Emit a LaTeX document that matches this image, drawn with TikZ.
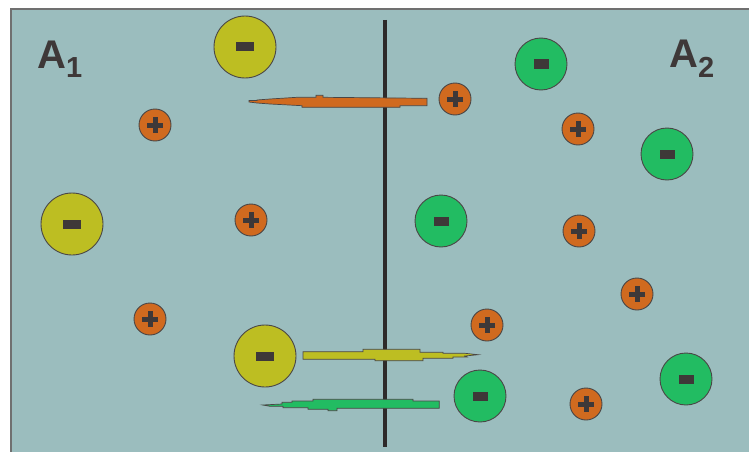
\documentclass[tikz,border=0pt]{standalone}
\usepackage{fontspec}
\newfontfamily\lblfont{Liberation Sans Bold}
\definecolor{bathcol}{HTML}{9BBDBE}
\definecolor{framegray}{HTML}{707070}
\definecolor{ionedge}{HTML}{4A4646}
\definecolor{signdark}{HTML}{3E3838}
\definecolor{ionorange}{HTML}{D06A1F}
\definecolor{ionyellow}{HTML}{BDBE22}
\definecolor{iongreen}{HTML}{22BC62}
\definecolor{membcol}{HTML}{2E2A2A}
\tikzset{
  ion/.style={circle, draw=ionedge, line width=0.9pt, inner sep=0pt},
  cation/.style={ion, fill=ionorange, minimum size=32pt, path picture={
      \fill[signdark] ([shift={(-8pt,-2.5pt)}]path picture bounding box.center) rectangle +(16pt,5pt);
      \fill[signdark] ([shift={(-2.5pt,-8pt)}]path picture bounding box.center) rectangle +(5pt,16pt);}},
  anionY/.style={ion, fill=ionyellow, minimum size=62pt, path picture={
      \fill[signdark] ([shift={(-9pt,-4.5pt)}]path picture bounding box.center) rectangle +(18pt,9pt);}},
  anionG/.style={ion, fill=iongreen, minimum size=52pt, path picture={
      \fill[signdark] ([shift={(-7.5pt,-4.5pt)}]path picture bounding box.center) rectangle +(15pt,9pt);}},
  channel/.style={draw=ionedge, line width=0.7pt},
  lbl/.style={font=\lblfont\fontsize{40}{40}\selectfont, text=signdark, inner sep=0pt, anchor=base west}
}
\begin{document}
\begin{tikzpicture}[x=1pt,y=-1pt]
  \useasboundingbox (0,0) rectangle (749,452);
  % bath and frame
  \fill[white] (0,0) rectangle (749,452);
  \fill[bathcol] (11,9) rectangle (749,452);
  \draw[framegray, line width=2.5pt] (11,452) -- (11,9) -- (749,9);
  % membrane
  \draw[membcol, line width=3.2pt] (385,20) -- (385,447);
  % channels
  \filldraw[channel, fill=ionorange] (249,100.5) -- (257,100.5) -- (257,100) -- (270,99) -- (297,97.3) -- (316,97.3) -- (316,95.3)
    -- (323,95.3) -- (323,97.3) -- (427,98.3) -- (427,105.7) -- (400,105.7) -- (400,107.3) -- (302,107.3)
    -- (302,105.7) -- (270,104) -- (257,103) -- (249,102) -- cycle;
  \filldraw[channel, fill=ionyellow] (303,351.7) -- (363,351.7) -- (363,349.3) -- (420,349.3) -- (420,352.3) -- (443,352.3)
    -- (443,353.3) -- (465,353.3) -- (478,354.7) -- (465,356) -- (467,357) -- (453,357) -- (453,358.3)
    -- (423,358.3) -- (423,360.7) -- (375,360.7) -- (375,359.3) -- (303,359.3) -- cycle;
  \filldraw[channel, fill=iongreen] (262.7,405) -- (282,404) -- (282,402.3) -- (292,402.3) -- (292,401) -- (313,401) -- (313,399.3)
    -- (413,399.3) -- (413,401) -- (439.3,401) -- (439.3,408.3) -- (337,408.3) -- (337,410.7) -- (328,410.7)
    -- (328,409.3) -- (308,409.3) -- (308,407.7) -- (283,407.7) -- (283,406.3) -- (270,406.3) -- cycle;
  % ions
  \foreach \x/\y [count=\i] in {155/125, 455/99, 578/129, 251/220, 579/231, 150/319, 637/294, 487/325, 586/404}
    \node[cation] (k\i) at (\x,\y) {};
  \foreach \x/\y [count=\i] in {245/47, 72/224, 265/356}
    \node[anionY] (y\i) at (\x,\y) {};
  \foreach \x/\y [count=\i] in {541/64, 667/154, 441/221, 480/396, 686/379}
    \node[anionG] (g\i) at (\x,\y) {};
  % compartments
  \node[lbl] (lblA1) at (37,69) {A\raisebox{-9pt}{\fontsize{29}{29}\selectfont 1}};
  \node[lbl] (lblA2) at (669,67) {A\raisebox{-10pt}{\fontsize{29}{29}\selectfont 2}};
\end{tikzpicture}
\end{document}
